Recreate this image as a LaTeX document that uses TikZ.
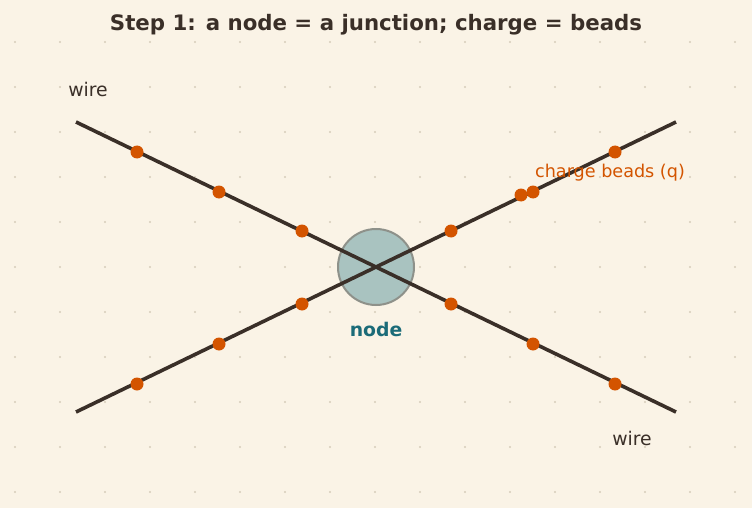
\documentclass[tikz,border=0pt]{standalone}
\usepackage{fontspec}
\setmainfont{DejaVu Sans}
\definecolor{bg}{HTML}{FAF3E6}
\definecolor{ink}{HTML}{3A2F28}
\definecolor{bead}{HTML}{D35400}
\definecolor{gridc}{HTML}{D6CCBA}
\definecolor{nodefill}{HTML}{A9C3C0}
\definecolor{nodeedge}{HTML}{8E918A}
\definecolor{teal}{HTML}{1B6B78}
\begin{document}
\begin{tikzpicture}[x=1pt,y=-1pt,
  wireline/.style={draw=ink,line width=3.6pt},
  beaddot/.style={circle,fill=bead,inner sep=0pt,minimum size=13pt},
  lbl/.style={inner sep=0pt,text=ink,font=\fontsize{18.8}{22}\selectfont}]
\fill[bg] (0,0) rectangle (752,508);
\useasboundingbox (0,0) rectangle (752,508);
\foreach \i in {0,...,16} \foreach \j in {0,...,10}
  \fill[gridc] (15+45*\i,42+45*\j) circle (1.2);
\node[font=\bfseries\fontsize{21.3}{24}\selectfont,text=ink,inner sep=0pt] (title) at (376,25) {Step 1: a node = a junction; charge = beads};
\coordinate (a1) at (76,122);
\coordinate (a2) at (676,412);
\coordinate (b1) at (76,412);
\coordinate (b2) at (676,122);
\node[circle,minimum size=76pt,inner sep=0pt,fill=nodefill,draw=nodeedge,line width=2pt] (jn) at (376,267) {};
\draw[wireline] (a1) -- (jn.center) -- (a2);
\draw[wireline] (b1) -- (jn.center) -- (b2);
\foreach \x/\y [count=\k] in {137/152,219/192,302/231,451/304,533/344,615/384}
  \node[beaddot] (pa\k) at (\x,\y) {};
\foreach \x/\y [count=\k] in {137/384,219/344,302/304,451/231,521/195,533/192,615/152}
  \node[beaddot] (pb\k) at (\x,\y) {};
\node[lbl] (w1) at (88,89) {wire};
\node[lbl] (w2) at (632,438) {wire};
\node[inner sep=0pt,text=bead,font=\fontsize{17.6}{20}\selectfont] (cb) at (610,173) {charge beads (q)};
\node[inner sep=0pt,text=teal,font=\bfseries\fontsize{18.8}{22}\selectfont] (nl) at (376,329) {node};
\end{tikzpicture}
\end{document}
